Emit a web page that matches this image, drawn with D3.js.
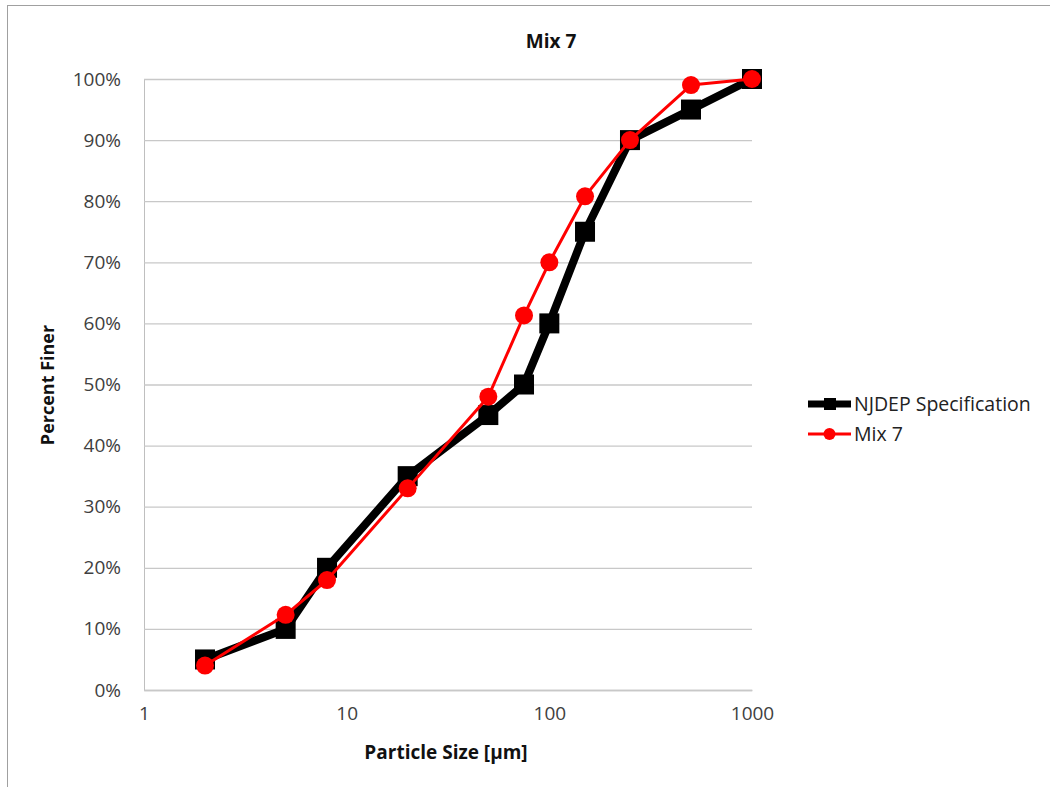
<!DOCTYPE html>
<html>
<head>
<meta charset="utf-8">
<script src="https://cdn.jsdelivr.net/npm/d3@7"></script>
<style>
  body { margin: 0; background: #fff; }
  text { font-family: "Open Sans", "Liberation Sans", sans-serif; fill: #404040; }
</style>
</head>
<body>
<div id="chart"></div>
<script>
// particle size in microns
var SIZES = [2, 5, 8, 20, 50, 75, 100, 150, 250, 500, 1000];
var SPEC  = [5, 10, 20, 35, 45, 50, 60, 75, 90, 95, 100];
var MIX7  = [4, 12.3, 18, 33, 48, 61.3, 70, 80.8, 90, 99, 100];
var X_TICKS = [1, 10, 100, 1000];
var Y_TICKS = [0, 10, 20, 30, 40, 50, 60, 70, 80, 90, 100];
var SERIES_NAMES = ['NJDEP Specification', 'Mix 7'];

var WIDTH = 1050, HEIGHT = 787;
var margin = { top: 79, left: 144, bottom: 97, right: 298 };
var W = WIDTH - margin.left - margin.right;
var H = HEIGHT - margin.top - margin.bottom;

var sx = d3.scaleLog().domain([1, 1000]).range([0, W]);
var sy = d3.scaleLinear().domain([0, 100]).range([H, 0]);

var svg = d3.select('#chart').append('svg')
    .attr('width', WIDTH)
    .attr('height', HEIGHT);

// chart border
svg.append('rect')
    .attr('x', 7.5).attr('y', 5.5)
    .attr('width', WIDTH).attr('height', HEIGHT)
    .attr('fill', 'none')
    .attr('stroke', '#a0a0a0');

svg.append('text')
    .attr('x', 551).attr('y', 48)
    .attr('text-anchor', 'middle')
    .style('font-size', '19px')
    .style('font-weight', 'bold')
    .style('fill', '#111')
    .text('Mix 7');

var g = svg.append('g')
    .attr('transform', 'translate(' + margin.left + ',' + margin.top + ')');

var ay = d3.axisLeft(sy)
    .tickValues(Y_TICKS)
    .tickSize(-W)
    .tickPadding(23)
    .tickFormat(function(d) { return d + '%'; });
var gy = g.append('g').call(ay);
gy.select('.domain').attr('stroke', '#bfbfbf');
gy.selectAll('.tick line').attr('stroke', '#c8c8c8').attr('stroke-width', 1.3);
gy.selectAll('.tick text').style('font-size', '19px').attr('fill', '#404040');

var ax = d3.axisBottom(sx)
    .tickValues(X_TICKS)
    .tickSize(0)
    .tickPadding(17)
    .tickFormat(d3.format('d'));
var gx = g.append('g')
    .attr('transform', 'translate(0,' + H + ')')
    .call(ax);
gx.select('.domain').attr('stroke', '#c8c8c8').attr('stroke-width', 1.3);
gx.selectAll('.tick text').style('font-size', '19px').attr('fill', '#404040');

svg.append('text')
    .attr('x', margin.left + W / 2 - 2).attr('y', 759)
    .attr('text-anchor', 'middle')
    .style('font-size', '19px')
    .style('font-weight', 'bold')
    .style('fill', '#111')
    .text('Particle Size [\u00b5m]');

svg.append('text')
    .attr('transform', 'translate(54,385) rotate(-90)')
    .attr('text-anchor', 'middle')
    .style('font-size', '18px')
    .style('font-weight', 'bold')
    .style('fill', '#111')
    .text('Percent Finer');

var line = d3.line()
    .x(function(d) { return sx(d[0]); })
    .y(function(d) { return sy(d[1]); });

var spec = d3.zip(SIZES, SPEC);
var mix = d3.zip(SIZES, MIX7);

g.append('path')
    .datum(spec)
    .attr('d', line)
    .attr('fill', 'none')
    .attr('stroke', '#000')
    .attr('stroke-width', 8)
    .attr('stroke-linejoin', 'round');

g.selectAll('.sq').data(spec).enter()
    .append('rect')
    .attr('class', 'sq')
    .attr('x', function(d) { return sx(d[0]) - 10; })
    .attr('y', function(d) { return sy(d[1]) - 10; })
    .attr('width', 20).attr('height', 20)
    .attr('fill', '#000');

g.append('path')
    .datum(mix)
    .attr('d', line)
    .attr('fill', 'none')
    .attr('stroke', '#f00')
    .attr('stroke-width', 3)
    .attr('stroke-linejoin', 'round');

g.selectAll('.dot').data(mix).enter()
    .append('circle')
    .attr('class', 'dot')
    .attr('cx', function(d) { return sx(d[0]); })
    .attr('cy', function(d) { return sy(d[1]); })
    .attr('r', 9)
    .attr('fill', '#f00');

// legend
var lg = svg.append('g').attr('transform', 'translate(808,404)');
lg.append('line').attr('x1', 0).attr('x2', 43).attr('y1', 0).attr('y2', 0)
    .attr('stroke', '#000').attr('stroke-width', 7);
lg.append('rect').attr('x', 16).attr('y', -6).attr('width', 12).attr('height', 12).attr('fill', '#000');
lg.append('text').attr('x', 46).attr('y', 7).style('font-size', '19.5px').style('fill', '#222').text(SERIES_NAMES[0]);
lg.append('line').attr('x1', 0).attr('x2', 43).attr('y1', 30).attr('y2', 30)
    .attr('stroke', '#f00').attr('stroke-width', 3);
lg.append('circle').attr('cx', 21.5).attr('cy', 30).attr('r', 6).attr('fill', '#f00');
lg.append('text').attr('x', 46).attr('y', 37).style('font-size', '19.5px').style('fill', '#222').text(SERIES_NAMES[1]);
</script>
</body>
</html>
